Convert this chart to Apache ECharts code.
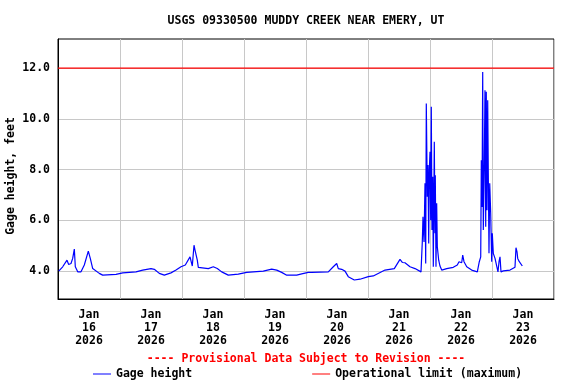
<!DOCTYPE html>
<html>
<head>
<meta charset="utf-8">
<script src="https://cdn.jsdelivr.net/npm/echarts@6/dist/echarts.min.js"></script>
<style>
html,body{margin:0;padding:0;background:#fff;}
#chart{width:576px;height:384px;}
</style>
</head>
<body>
<div id="chart"></div>
<script>
const titleText = 'USGS 09330500 MUDDY CREEK NEAR EMERY, UT';
const yAxisName = 'Gage height, feet';
const provisionalText = '---- Provisional Data Subject to Revision ----';
const seriesNames = ['Gage height', 'Operational limit (maximum)'];
const xStart = '2026-01-16 00:00';
const xEnd = '2026-01-24 00:00';
const dayLabelTimes = ['2026-01-16 12:00','2026-01-17 12:00','2026-01-18 12:00','2026-01-19 12:00','2026-01-20 12:00','2026-01-21 12:00','2026-01-22 12:00','2026-01-23 12:00'];
const yTicks = [4, 6, 8, 10, 12];
const yMin = 2.9;
const yMax = 13.15;
const limitValue = 12.0;

const times = [
'2026-01-16 00:16','2026-01-16 01:49','2026-01-16 03:29','2026-01-16 04:08','2026-01-16 05:02','2026-01-16 05:41','2026-01-16 06:19','2026-01-16 06:42','2026-01-16 07:38','2026-01-16 08:54',
'2026-01-16 10:11','2026-01-16 11:44','2026-01-16 12:30','2026-01-16 13:26','2026-01-16 14:03','2026-01-16 15:59','2026-01-16 17:18','2026-01-16 22:27','2026-01-17 01:03','2026-01-17 06:12',
'2026-01-17 08:47','2026-01-17 12:00','2026-01-17 13:17','2026-01-17 15:13','2026-01-17 17:09','2026-01-17 19:44','2026-01-17 21:41','2026-01-17 23:37','2026-01-18 01:17','2026-01-18 03:06',
'2026-01-18 03:36','2026-01-18 03:59','2026-01-18 04:39','2026-01-18 05:02','2026-01-18 05:25','2026-01-18 05:55','2026-01-18 06:19','2026-01-18 06:58','2026-01-18 10:11','2026-01-18 12:07',
'2026-01-18 13:40','2026-01-18 15:22','2026-01-18 17:55','2026-01-18 21:47','2026-01-19 01:03','2026-01-19 07:28','2026-01-19 10:43','2026-01-19 12:40','2026-01-19 14:35','2026-01-19 16:32',
'2026-01-19 20:24','2026-01-19 22:20','2026-01-20 00:53','2026-01-20 02:12','2026-01-20 08:38','2026-01-20 10:34','2026-01-20 11:53','2026-01-20 12:30','2026-01-20 13:49','2026-01-20 15:06',
'2026-01-20 16:22','2026-01-20 18:42','2026-01-20 20:54','2026-01-21 00:07','2026-01-21 02:03','2026-01-21 06:35','2026-01-21 10:11','2026-01-21 12:23','2026-01-21 13:17','2026-01-21 14:19',
'2026-01-21 16:15','2026-01-21 18:12','2026-01-21 20:31','2026-01-21 21:01','2026-01-21 21:17','2026-01-21 21:41','2026-01-21 22:04','2026-01-21 22:20','2026-01-21 22:34','2026-01-21 22:58',
'2026-01-21 23:14','2026-01-21 23:30','2026-01-21 23:44','2026-01-22 00:00','2026-01-22 00:16','2026-01-22 00:30','2026-01-22 00:46','2026-01-22 01:03','2026-01-22 01:17','2026-01-22 01:40',
'2026-01-22 01:56','2026-01-22 02:03','2026-01-22 02:19','2026-01-22 02:35','2026-01-22 02:50','2026-01-22 03:22','2026-01-22 03:52','2026-01-22 04:32','2026-01-22 06:28','2026-01-22 09:01',
'2026-01-22 10:34','2026-01-22 11:14','2026-01-22 12:16','2026-01-22 12:40','2026-01-22 13:10','2026-01-22 14:13','2026-01-22 16:08','2026-01-22 18:19','2026-01-22 19:05','2026-01-22 19:38',
'2026-01-22 19:52','2026-01-22 20:08','2026-01-22 20:24','2026-01-22 20:38','2026-01-22 21:01','2026-01-22 21:17','2026-01-22 21:34','2026-01-22 21:47','2026-01-22 22:04','2026-01-22 22:20',
'2026-01-22 22:34','2026-01-22 22:50','2026-01-22 23:07','2026-01-22 23:30','2026-01-22 23:53','2026-01-23 00:07','2026-01-23 00:30','2026-01-23 01:10','2026-01-23 01:49','2026-01-23 02:19',
'2026-01-23 02:43','2026-01-23 03:06','2026-01-23 03:29','2026-01-23 04:22','2026-01-23 06:58','2026-01-23 08:54','2026-01-23 09:17','2026-01-23 09:41','2026-01-23 09:57','2026-01-23 10:34',
'2026-01-23 11:44'
];
const gage = [
4.00,4.17,4.43,4.26,4.30,4.50,4.87,4.17,3.97,3.97,
4.24,4.79,4.50,4.10,4.04,3.91,3.84,3.87,3.93,3.97,
4.04,4.10,4.07,3.91,3.84,3.93,4.04,4.17,4.24,4.56,
4.63,4.20,5.02,4.83,4.90,4.43,4.15,4.10,4.10,4.17,
4.10,3.97,3.84,3.88,3.95,4.00,4.08,4.04,3.95,3.84,
3.84,3.89,3.95,3.95,3.97,4.17,4.30,4.10,4.07,4.00,
3.78,3.65,3.68,3.78,3.81,4.04,4.10,4.46,4.34,4.33,
4.17,4.10,3.97,5.15,6.14,5.15,7.46,4.30,10.61,6.93,
8.18,5.09,7.98,8.70,6.00,10.48,5.62,7.72,4.17,9.10,
5.49,7.78,4.17,6.67,4.96,4.43,4.20,4.04,4.10,4.15,
4.24,4.37,4.33,4.63,4.37,4.17,4.04,3.97,4.37,4.56,
8.37,6.53,11.85,5.62,8.24,11.13,5.75,11.07,6.40,10.74,
7.85,4.70,7.46,6.27,4.37,5.49,4.70,4.50,4.43,3.97,
4.37,4.56,3.97,4.01,4.04,4.15,4.92,4.76,4.50,4.37,
4.20
];

function ms(s) { return new Date(s.replace(' ', 'T')).getTime(); }
const FONT = 'DejaVu Sans Mono';
const monthNames = ['Jan','Feb','Mar','Apr','May','Jun','Jul','Aug','Sep','Oct','Nov','Dec'];
const DAY = 86400000;

const gageData = times.map((t, i) => [ms(t), gage[i]]);
const limitData = [[ms(xStart), limitValue], [ms(xEnd), limitValue]];

const chart = echarts.init(document.getElementById('chart'), null, {renderer: 'canvas'});
chart.setOption({
  animation: false,
  backgroundColor: '#ffffff',
  textStyle: {fontFamily: FONT},
  title: {
    text: titleText,
    left: 306, top: 15, textAlign: 'center', padding: 0,
    textStyle: {fontFamily: FONT, fontWeight: 'bold', fontSize: 11.5, color: '#000'}
  },
  graphic: [{
    type: 'text', x: 306, y: 359.5,
    style: {text: provisionalText, fill: '#ff0000', font: 'bold 11.5px "DejaVu Sans Mono"', align: 'center', verticalAlign: 'middle'}
  }],
  legend: {
    left: 93, top: 368, itemWidth: 18, itemHeight: 1, itemGap: 120, padding: 0,
    icon: 'rect',
    textStyle: {fontFamily: FONT, fontWeight: 'bold', fontSize: 11.5, color: '#000'},
    data: seriesNames
  },
  grid: {left: 58, right: 22, top: 39, bottom: 85, show: true, borderColor: '#000', borderWidth: 1,
         containLabel: false, outerBoundsMode: 'none'},
  xAxis: {
    type: 'value', min: ms(xStart), max: ms(xEnd), interval: DAY,
    axisLine: {show: true, onZero: false, lineStyle: {color: '#000', width: 1}},
    axisTick: {show: false},
    splitLine: {show: true, lineStyle: {color: '#c8c8c8', width: 1}},
    axisLabel: {
      customValues: dayLabelTimes.map(ms),
      margin: 9.5, lineHeight: 13,
      fontFamily: FONT, fontWeight: 'bold', fontSize: 11.5, color: '#000',
      formatter: function (v) {
        const d = new Date(v);
        return monthNames[d.getMonth()] + '\n' + d.getDate() + '\n' + d.getFullYear();
      }
    }
  },
  yAxis: {
    type: 'value', min: yMin, max: yMax,
    name: yAxisName, nameLocation: 'middle', nameGap: 41, nameMoveOverlap: false,
    nameTextStyle: {fontFamily: FONT, fontWeight: 'bold', fontSize: 11.5, color: '#000', padding: [0, 14, 0, 0]},
    axisLine: {show: true, onZero: false, lineStyle: {color: '#000', width: 1}},
    axisTick: {show: false, customValues: yTicks},
    splitLine: {show: true, lineStyle: {color: '#c8c8c8', width: 1}},
    axisLabel: {
      customValues: yTicks, margin: 8,
      fontFamily: FONT, fontWeight: 'bold', fontSize: 11.5, color: '#000',
      formatter: v => v.toFixed(1)
    }
  },
  series: [
    {
      name: seriesNames[0], type: 'line', data: gageData,
      symbol: 'none', showSymbol: false, z: 3,
      lineStyle: {color: '#0000ff', width: 1.2}, itemStyle: {color: '#0000ff'}
    },
    {
      name: seriesNames[1], type: 'line', data: limitData,
      symbol: 'none', showSymbol: false, z: 2,
      lineStyle: {color: '#ff0000', width: 1.2}, itemStyle: {color: '#ff0000'}
    }
  ]
});
</script>
</body>
</html>
